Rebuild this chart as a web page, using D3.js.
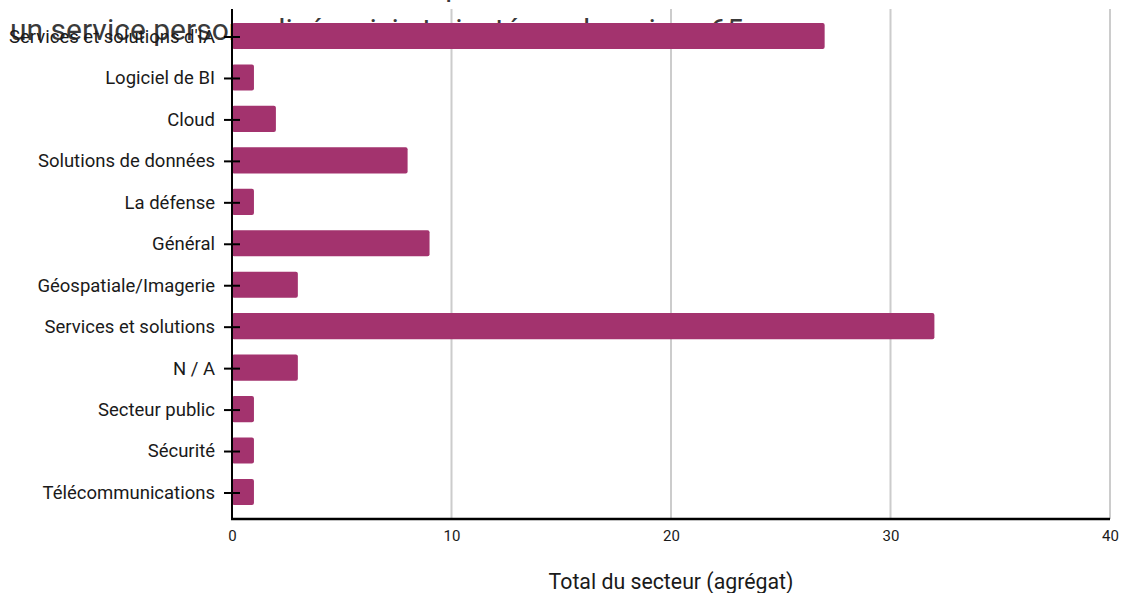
<!DOCTYPE html>
<html><head><meta charset="utf-8">
<script src="https://cdn.jsdelivr.net/npm/d3@7"></script>
<style>body{margin:0;background:#fff;}svg{display:block;font-family:Roboto,sans-serif;}</style>
</head><body><svg id="c" width="1121" height="593"></svg>
<script>
const categories = ["Services et solutions d'IA","Logiciel de BI","Cloud","Solutions de données","La défense","Général","Géospatiale/Imagerie","Services et solutions","N / A","Secteur public","Sécurité","Télécommunications"];
const values = [27,1,2,8,1,9,3,32,3,1,1,1];
const xTicks = [0,10,20,30,40];
const titleLines = ["Nombre total des entités de chaque secteur selon le fait de fournir ou non à","un service personnalisé, suivi et ajusté aux besoins : 65"];
const xTitle = "Total du secteur (agrégat)";

const svg = d3.select("#c");
const m = {l:232, r:1110, t:9, b:519};
const x = d3.scaleLinear().domain([0,40]).range([m.l,m.r]);
const y = d3.scaleBand().domain(categories).range([m.t,m.b]).paddingInner(0.37).paddingOuter(0.337);

// title (partly behind the plot, first line mostly above the page)
svg.append("g").selectAll("text").data(titleLines).join("text")
  .attr("x",10).attr("y",(d,i)=> i===0 ? -4 : 40)
  .attr("font-size",30).attr("fill","#3a3a3a").text(d=>d);

// grid
svg.append("g").selectAll("line").data(xTicks.filter(d=>d>0)).join("line")
  .attr("x1",d=>x(d)).attr("x2",d=>x(d)).attr("y1",m.t).attr("y2",m.b)
  .attr("stroke","#cccccc").attr("stroke-width",2);

// bars
svg.append("g").selectAll("rect").data(values).join("rect")
  .attr("x",x(0)).attr("y",(d,i)=>y(categories[i]))
  .attr("width",d=>x(d)-x(0)).attr("height",y.bandwidth())
  .attr("rx",2).attr("fill","#a3336e");

// y axis
const ya = svg.append("g").attr("transform",`translate(${m.l},1)`)
  .call(d3.axisLeft(y).tickSize(0).tickPadding(17));
ya.select(".domain").remove();
ya.selectAll("text").attr("font-size",18.5).attr("fill","#1a1a1a").attr("font-family","Roboto,sans-serif");
ya.selectAll(".tick").append("line").attr("x1",-8).attr("x2",8).attr("stroke","#000").attr("stroke-width",2);
svg.append("line").attr("x1",m.l).attr("x2",m.l).attr("y1",m.t).attr("y2",m.b+1).attr("stroke","#000").attr("stroke-width",2);

// x axis
const xa = svg.append("g").attr("transform",`translate(0,${m.b})`)
  .call(d3.axisBottom(x).tickValues(xTicks).tickSize(0).tickPadding(11));
xa.select(".domain").remove();
xa.selectAll("text").attr("font-size",15).attr("fill","#1a1a1a").attr("font-family","Roboto,sans-serif");
svg.append("line").attr("x1",m.l-1).attr("x2",m.r).attr("y1",m.b).attr("y2",m.b).attr("stroke","#000").attr("stroke-width",2.5);

svg.append("text").attr("x",(m.l+m.r)/2).attr("y",589).attr("text-anchor","middle")
  .attr("font-size",21.3).attr("fill","#1a1a1a").text(xTitle);
</script></body></html>
